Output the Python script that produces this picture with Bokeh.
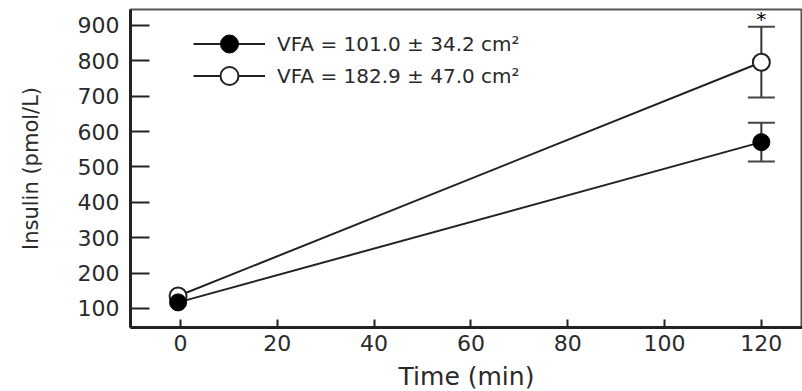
from bokeh.plotting import figure
from bokeh.models import Range1d, FixedTicker, Legend, LegendItem, Whisker, ColumnDataSource, TeeHead
from bokeh.core.properties import value
from bokeh.embed import file_html
from bokeh.resources import INLINE

# ---- data ----
time_min = [-0.5, 120]
insulin_low_vfa = [117, 570]      # VFA = 101.0 ± 34.2 cm²  (filled)
insulin_high_vfa = [135, 796]     # VFA = 182.9 ± 47.0 cm²  (open)
err_low_vfa = [0, 55]
err_high_vfa = [0, 100]
x_ticks = [0, 20, 40, 60, 80, 100, 120]
y_ticks = [100, 200, 300, 400, 500, 600, 700, 800, 900]
label_low = "VFA = 101.0 ± 34.2 cm²"
label_high = "VFA = 182.9 ± 47.0 cm²"
sig_x = [120]
sig_y = [918]
sig_text = ["*"]

FONT = "DejaVu Sans"
INK = "#222222"
TXT = "#2a2a2a"

p = figure(frame_width=672, frame_height=318,
           x_range=Range1d(-10.33, 128.5), y_range=Range1d(46, 945),
           output_backend="svg", toolbar_location=None,
           min_border_left=130, min_border_top=9, min_border_right=0, min_border_bottom=0)
p.xgrid.visible = False
p.ygrid.visible = False
p.outline_line_color = "#555555"
p.outline_line_width = 2

p.xaxis.ticker = FixedTicker(ticks=x_ticks)
p.yaxis.ticker = FixedTicker(ticks=y_ticks)
for ax in (p.xaxis[0], p.yaxis[0]):
    ax.minor_tick_line_color = None
    ax.major_tick_out = 0
    ax.axis_line_color = INK
    ax.axis_line_width = 3
    ax.major_tick_line_color = INK
    ax.major_tick_line_width = 2
    ax.major_label_text_font = FONT
    ax.major_label_text_font_size = "22px"
    ax.major_label_text_color = TXT
    ax.axis_label_text_font = FONT
    ax.axis_label_text_font_style = "normal"
    ax.axis_label_text_color = TXT
p.xaxis.major_tick_in = 8
p.yaxis.major_tick_in = 19
p.xaxis.major_label_standoff = 7
p.yaxis.major_label_standoff = 11
p.xaxis.axis_label = "Time (min)"
p.yaxis.axis_label = "Insulin (pmol/L)"
p.xaxis.axis_label_text_font_size = "25px"
p.yaxis.axis_label_text_font_size = "21px"
p.xaxis.axis_label_standoff = 8
p.yaxis.axis_label_standoff = 32


def make_sources(xs, ys, errs):
    pts = ColumnDataSource(dict(x=xs, y=ys))
    bx = [x for x, e in zip(xs, errs) if e > 0]
    up = [y + e for y, e in zip(ys, errs) if e > 0]
    lo = [y - e for y, e in zip(ys, errs) if e > 0]
    bars = ColumnDataSource(dict(x=bx, upper=up, lower=lo))
    return pts, bars


src_low, bars_low = make_sources(time_min, insulin_low_vfa, err_low_vfa)
src_high, bars_high = make_sources(time_min, insulin_high_vfa, err_high_vfa)

for bars in (bars_high, bars_low):
    p.add_layout(Whisker(source=bars, base="x", upper="upper", lower="lower",
                         line_color="#333333", line_width=2,
                         upper_head=TeeHead(size=27, line_width=2, line_color="#444444"),
                         lower_head=TeeHead(size=27, line_width=2, line_color="#444444")))

l_high = p.line("x", "y", source=src_high, line_color=INK, line_width=2)
l_low = p.line("x", "y", source=src_low, line_color=INK, line_width=2)
s_high = p.scatter("x", "y", source=src_high, size=17, marker="circle",
                   fill_color="white", line_color=INK, line_width=2)
s_low = p.scatter("x", "y", source=src_low, size=17, marker="circle",
                  fill_color="black", line_color="black", line_width=1)

p.text(x=sig_x, y=sig_y, text=sig_text, text_font=value(FONT), text_font_size="20px",
       text_align="center", text_baseline="middle", text_color="black")

common = dict(glyph_width=72, glyph_height=45, label_height=45, spacing=0, padding=0,
              margin=0, label_standoff=12, label_text_font=FONT,
              label_text_font_size="20px", label_text_color=TXT,
              background_fill_alpha=0, border_line_alpha=0)
leg1 = Legend(items=[LegendItem(label=label_low, renderers=[l_low, s_low])],
              location=(63, 261), **common)
leg2 = Legend(items=[LegendItem(label=label_high, renderers=[l_high, s_high])],
              location=(63, 229), **common)
p.add_layout(leg1)
p.add_layout(leg2)

open("out.html", "w").write(file_html(p, INLINE))
